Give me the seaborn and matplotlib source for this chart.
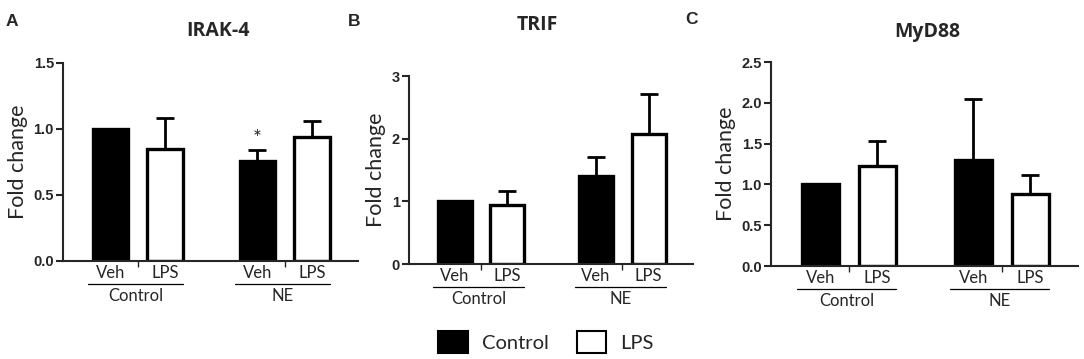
import numpy as np
import pandas as pd
import matplotlib
matplotlib.use("Agg")
import matplotlib.pyplot as plt
import matplotlib.transforms as mtransforms
from matplotlib.patches import Patch
import seaborn as sns

# data
genes = ["IRAK-4", "TRIF", "MyD88"]
groups = ["Control", "NE"]
treatments = ["Control", "LPS"]
bar_labels = ["Veh", "LPS"]
# means per gene, in order Control-Veh, Control-LPS, NE-Veh, NE-LPS
means = {
    "IRAK-4": [1.00, 0.85, 0.76, 0.94],
    "TRIF":   [1.00, 0.94, 1.41, 2.07],
    "MyD88":  [1.00, 1.23, 1.30, 0.88],
}
sems = {
    "IRAK-4": [0.00, 0.23, 0.08, 0.12],
    "TRIF":   [0.00, 0.23, 0.30, 0.64],
    "MyD88":  [0.00, 0.30, 0.75, 0.24],
}
ylims = {"IRAK-4": 1.5, "TRIF": 3, "MyD88": 2.5}
yticks = {"IRAK-4": [0, 0.5, 1.0, 1.5], "TRIF": [0, 1, 2, 3],
          "MyD88": [0, 0.5, 1.0, 1.5, 2.0, 2.5]}
ytick_fmt = {"IRAK-4": "{:.1f}", "TRIF": "{:.0f}", "MyD88": "{:.1f}"}
stars = {"IRAK-4": [None, None, "*", None], "TRIF": [None] * 4, "MyD88": [None] * 4}
panel_letters = ["A", "B", "C"]

sns.set_style("ticks")
plt.rcParams["font.family"] = ["Lato", "DejaVu Sans"]

fig = plt.figure(figsize=(10.84, 3.59), dpi=100)
W, H = 1084, 359
# axes boxes in pixels: left, right, top, bottom
boxes = [(63, 358, 63, 261), (409, 693, 76, 264), (771, 1078, 62, 266)]
title_pos = [(218, 31), (537, 25), (927, 32)]
letter_pos = [(12, 22), (354, 22), (692, 20)]
palette = {"Control": "black", "LPS": "white"}

for i, gene in enumerate(genes):
    l, r, t, b = boxes[i]
    ax = fig.add_axes([l / W, 1 - b / H, (r - l) / W, (b - t) / H])
    df = pd.DataFrame({
        "group": [groups[0], groups[0], groups[1], groups[1]],
        "treatment": treatments * 2,
        "value": means[gene],
    })
    sns.barplot(data=df, x="group", y="value", hue="treatment", order=groups,
                hue_order=treatments, palette=palette, edgecolor="black",
                linewidth=2.4, width=0.744, gap=0.35, errorbar=None,
                legend=False, ax=ax)

    # bar centres from the drawn patches
    centers = {}
    for h, cont in enumerate(ax.containers):
        for g, p in enumerate(cont.patches):
            centers[(g, h)] = (p.get_x() + p.get_width() / 2, p.get_x(), p.get_x() + p.get_width())
    order = [(0, 0), (0, 1), (1, 0), (1, 1)]
    xs = [centers[k][0] for k in order]
    m = np.array(means[gene])
    e = np.array(sems[gene])
    ax.errorbar(xs, m, yerr=[np.zeros_like(e), e], fmt="none", ecolor="black",
                elinewidth=2, capsize=6.5, capthick=2, zorder=1)
    for x, mm, ee, s in zip(xs, m, e, stars[gene]):
        if s:
            ax.annotate(s, (x, mm + ee), xytext=(0, 1), textcoords="offset points",
                        ha="center", va="bottom", fontsize=15)

    ax.set_xlim(-0.51, 1.5)
    ax.set_ylim(0, ylims[gene])
    ax.set_yticks(yticks[gene])
    ax.set_yticklabels([ytick_fmt[gene].format(v) for v in yticks[gene]],
                       fontweight="bold", family="Liberation Sans", fontsize=10.5)
    ax.set_xticks([0, 1])
    ax.set_xticklabels([])
    ax.tick_params(axis="x", length=4, width=1)
    ax.tick_params(axis="y", length=5, width=1.5, pad=1.5)
    ax.set_xlabel("")
    ax.set_ylabel("Fold change", fontsize=15.5, labelpad=4)
    for sp in ["left", "bottom"]:
        ax.spines[sp].set_linewidth(1.5)
    sns.despine(ax=ax)

    # Veh / LPS labels, underline and group label under each group
    xt = ax.get_xaxis_transform()
    for g in range(2):
        for h in range(2):
            ax.annotate(bar_labels[h], (centers[(g, h)][0], 0), xycoords=xt,
                        xytext=(0, -8.8), textcoords="offset points",
                        ha="center", va="center", fontsize=12, annotation_clip=False)
        x0 = centers[(g, 0)][1] - 0.03
        x1 = centers[(g, 1)][2]
        line_tr = xt + mtransforms.ScaledTranslation(0, -16.5 / 72, fig.dpi_scale_trans)
        ax.plot([x0, x1], [0, 0], color="black", lw=0.9, transform=line_tr, clip_on=False)
        ax.annotate(groups[g], ((x0 + x1) / 2, 0), xycoords=xt,
                    xytext=(0, -25), textcoords="offset points",
                    ha="center", va="center", fontsize=12, annotation_clip=False)

    fig.text(title_pos[i][0] / W, 1 - title_pos[i][1] / H, gene, ha="center",
             va="center", fontsize=14, fontweight="bold", family="Open Sans")
    fig.text(letter_pos[i][0] / W, 1 - letter_pos[i][1] / H, panel_letters[i],
             ha="center", va="center", fontsize=12.5, fontweight="bold",
             family="Liberation Sans")

handles = [Patch(facecolor=palette[t], edgecolor="black", linewidth=1.5) for t in treatments]
fig.legend(handles, treatments, loc="center", bbox_to_anchor=(546 / W, 1 - 342 / H),
           ncol=2, frameon=False, fontsize=14.5, handlelength=1.45, handleheight=1.3,
           handletextpad=0.7, columnspacing=1.4)

fig.savefig("out.png", dpi=100)
